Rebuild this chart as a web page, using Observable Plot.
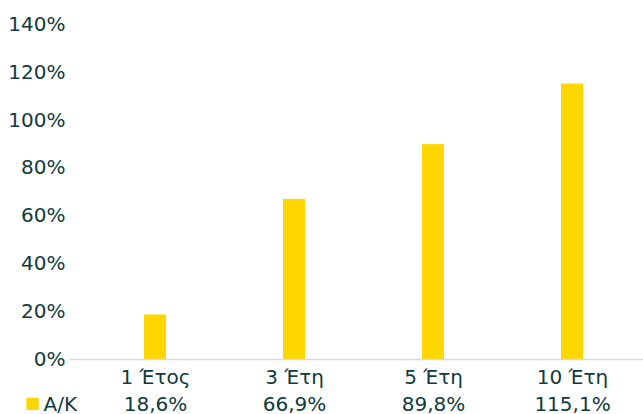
<!DOCTYPE html>
<html><head><meta charset="utf-8">
<script src="https://cdn.jsdelivr.net/npm/d3@7"></script>
<script src="https://cdn.jsdelivr.net/npm/@observablehq/plot@0.6"></script>
<style>
body{margin:0;background:#fff;}
#chart svg{font-family:"DejaVu Sans",Verdana,sans-serif;}
</style></head>
<body><div id="chart"></div>
<script>
const categories = ["1 Έτος", "3 Έτη", "5 Έτη", "10 Έτη"];
const values = [0.186, 0.669, 0.898, 1.151];
const valueLabels = ["18,6%", "66,9%", "89,8%", "115,1%"];
const seriesName = "Α/Κ";
const yTicks = [0, 0.2, 0.4, 0.6, 0.8, 1.0, 1.2, 1.4];

const data = categories.map((c, i) => ({cat: c, v: values[i], lab: valueLabels[i]}));
const ink = "#0f3b3c";
const gold = "#FFD700";

const chart = Plot.plot({
  width: 643, height: 414,
  marginTop: 24, marginBottom: 55, marginLeft: 70, marginRight: 0,
  style: {fontSize: "20px", color: ink, fontFamily: "DejaVu Sans, Verdana, sans-serif"},
  x: {domain: categories, range: [85, 643], paddingInner: 0.84, paddingOuter: 0.413, label: null},
  y: {domain: [0, 1.4], label: null},
  marks: [
    Plot.barY(data, {x: "cat", y: "v", fill: gold}),
    Plot.ruleY([0], {stroke: "#d9d9d9", strokeWidth: 1.5}),
    Plot.axisY({ticks: yTicks, tickFormat: d => Math.round(d * 100) + "%", tickSize: 0, tickPadding: 5, label: null, fill: ink, fontSize: 20}),
    Plot.axisX({tickSize: 0, tickPadding: 10, label: null, fill: ink, fontSize: 20}),
    Plot.text(data, {x: "cat", text: "lab", frameAnchor: "bottom", lineAnchor: "bottom", dy: 51, fill: ink, fontSize: 20}),
    Plot.text([seriesName], {text: d => d, frameAnchor: "bottom-left", lineAnchor: "bottom", dx: -27, dy: 51, textAnchor: "start", fill: ink, fontSize: 20}),
    Plot.text(["■"], {text: d => d, frameAnchor: "bottom-left", dx: -38, dy: 48, textAnchor: "middle", fill: gold, fontSize: 16})
  ]
});
document.getElementById("chart").append(chart);
</script></body></html>
